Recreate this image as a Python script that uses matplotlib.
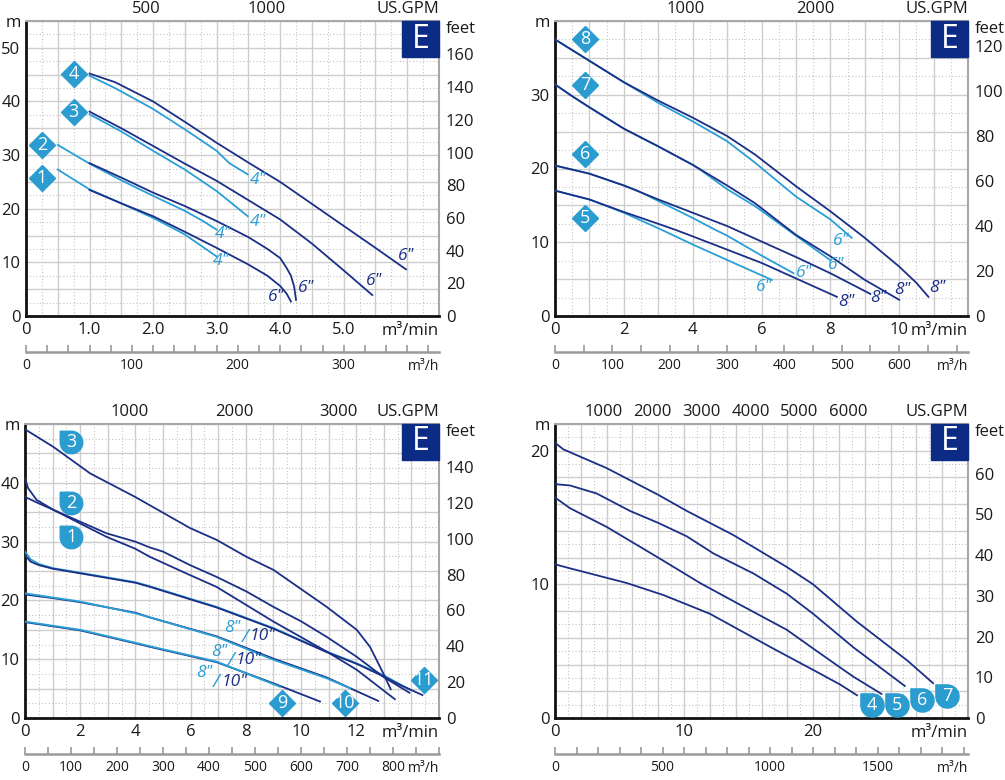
import matplotlib
matplotlib.use('Agg')
import matplotlib.pyplot as plt
import numpy as np
from matplotlib.path import Path
from matplotlib.patches import Rectangle
from matplotlib.transforms import offset_copy

plt.rcParams['font.family'] = ['Open Sans', 'DejaVu Sans']

DARK = '#1b2f86'
LIGHT = '#2a9fd6'
BADGE = '#2a9ccf'
EBOX = '#0b2b85'
GRID = '#cdcdcd'
GRID_DOT = '#c4c4c4'
TEXT = '#1a1a1a'

M_TO_FT = 3.28084
TO_GPM = 264.172
TO_M3H = 60.0

# ---------------- top-left panel (pumps 1-4, 4" / 6") ----------------
tl_c4_6_q = [1.0, 1.4, 2.0, 2.5, 3.0, 3.5, 4.0, 4.5, 5.0, 5.5, 5.98]
tl_c4_6_h = [45.2, 43.6, 40.0, 36.2, 32.3, 28.6, 25.0, 20.9, 16.8, 12.7, 8.7]
tl_c4_4_q = [1.0, 1.4, 2.0, 2.5, 3.0, 3.2, 3.49]
tl_c4_4_h = [44.8, 42.5, 38.6, 34.8, 30.8, 28.5, 26.4]
tl_c3_6_q = [1.0, 1.5, 2.0, 2.5, 3.0, 3.5, 4.0, 4.5, 4.7, 5.0, 5.45]
tl_c3_6_h = [38.1, 35.0, 31.7, 28.4, 25.2, 21.6, 18.0, 13.5, 11.5, 8.5, 3.9]
tl_c3_4_q = [1.0, 1.5, 2.0, 2.5, 3.0, 3.49]
tl_c3_4_h = [37.6, 34.4, 30.8, 27.3, 23.3, 18.6]
tl_c2_6_q = [1.0, 1.5, 2.0, 2.5, 3.0, 3.5, 3.8, 4.0, 4.1, 4.17, 4.22, 4.25]
tl_c2_6_h = [28.5, 25.8, 23.0, 20.5, 17.7, 14.7, 12.5, 10.8, 9.0, 7.5, 5.5, 3.0]
tl_c2_4_q = [0.5, 1.0, 1.5, 2.0, 2.5, 2.8, 3.0]
tl_c2_4_h = [31.9, 28.4, 25.3, 22.4, 19.6, 17.6, 16.1]
tl_c1_6_q = [1.0, 1.5, 2.0, 2.5, 3.0, 3.5, 3.8, 4.0, 4.1, 4.17]
tl_c1_6_h = [23.5, 21.0, 18.6, 15.7, 12.7, 9.6, 7.5, 5.6, 4.2, 2.7]
tl_c1_4_q = [0.5, 1.0, 1.5, 2.0, 2.5, 3.0]
tl_c1_4_h = [27.3, 23.6, 21.0, 18.3, 15.2, 11.1]

tl_lab4_x = [3.65, 3.65, 3.10, 3.07]
tl_lab4_y = [25.4, 17.5, 15.3, 10.2]
tl_lab6_x = [5.98, 5.48, 4.41, 3.94]
tl_lab6_y = [11.2, 6.5, 5.2, 3.6]
tl_badge_n = ['4', '3', '2', '1']
tl_badge_x = [0.75, 0.75, 0.25, 0.25]
tl_badge_y = [45.1, 38.0, 31.8, 25.8]

# ---------------- top-right panel (pumps 5-8, 6" / 8") ----------------
tr_c8_8_q = [0, 1, 2, 3, 4, 5, 5.81, 7, 8, 9, 10, 10.5, 10.85]
tr_c8_8_h = [37.5, 34.6, 31.7, 29.2, 26.9, 24.4, 21.9, 17.6, 14.2, 10.6, 6.7, 4.5, 2.6]
tr_c8_6_q = [0, 1, 2, 3, 4, 5, 5.81, 7, 8, 8.62]
tr_c8_6_h = [37.5, 34.6, 31.7, 28.9, 26.4, 23.7, 20.8, 16.2, 13.1, 10.6]
tr_c7_8_q = [0, 0.5, 1, 2, 3, 4, 5, 5.81, 7, 8, 9, 10]
tr_c7_8_h = [31.4, 29.8, 28.3, 25.4, 23.0, 20.5, 17.7, 15.3, 11.0, 8.1, 4.9, 2.2]
tr_c7_6_q = [0, 0.5, 1, 2, 3, 4, 4.2, 5, 5.81, 7, 7.99]
tr_c7_6_h = [31.4, 29.8, 28.3, 25.4, 23.0, 20.5, 19.9, 17.2, 14.9, 10.9, 7.6]
tr_c6_8_q = [0, 1, 2, 3, 4, 5, 6, 7, 8, 9.16]
tr_c6_8_h = [20.4, 19.3, 17.7, 15.8, 14.0, 12.2, 10.1, 8.0, 5.8, 3.0]
tr_c6_6_q = [0, 1, 2, 2.4, 3, 4, 4.65, 5, 6, 6.93]
tr_c6_6_h = [20.4, 19.3, 17.7, 17.0, 15.6, 13.3, 11.7, 10.9, 8.2, 5.8]
tr_c5_8_q = [0, 1, 2, 3, 3.49, 4, 5, 6, 7, 8.19]
tr_c5_8_h = [17.0, 15.8, 14.1, 12.5, 11.7, 10.8, 9.0, 7.2, 5.1, 2.6]
tr_c5_6_q = [0, 1, 2, 3, 4, 5, 6.3]
tr_c5_6_h = [17.0, 15.8, 14.0, 11.9, 9.7, 7.6, 4.9]

tr_lab6_x = [8.31, 8.17, 7.24, 6.08]
tr_lab6_y = [10.2, 6.9, 5.85, 3.9]
tr_lab8_x = [11.1, 10.09, 9.39, 8.46]
tr_lab8_y = [3.8, 3.5, 2.45, 1.9]
tr_badge_n = ['8', '7', '6', '5']
tr_badge_x = [0.87, 0.87, 0.87, 0.87]
tr_badge_y = [37.6, 31.3, 22.0, 13.3]

# ---------------- bottom-left panel (pumps 1-3, 9-11, 8"/10") ----------------
bl_c3_q = [0, 1.03, 2.36, 3.99, 5.98, 6.94, 8.03, 9.0, 10.93, 12.02, 12.5, 12.98, 13.25]
bl_c3_h = [49.1, 46.1, 41.6, 37.6, 32.3, 30.3, 27.4, 25.2, 18.9, 15.0, 12.1, 7.6, 4.9]
bl_c2_q = [0, 0.11, 0.42, 1.03, 1.99, 2.96, 3.99, 4.53, 5.0, 5.98, 6.94, 8.03, 9.0,
           10.02, 10.93, 12.02, 12.98, 13.93]
bl_c2_h = [40.8, 39.1, 37.1, 35.4, 33.4, 31.4, 30.0, 29.0, 28.3, 26.0, 24.0, 21.5, 18.9,
           16.4, 13.8, 10.4, 7.0, 4.3]
bl_c1_q = [0, 0.5, 1.03, 1.99, 2.96, 3.99, 4.53, 5.98, 6.94, 9.0, 10.93, 12.02, 13.4]
bl_c1_h = [37.6, 36.5, 35.4, 33.1, 30.8, 28.8, 27.4, 24.3, 22.3, 16.4, 11.3, 8.2, 3.2]
bl_c11_8_q = [0, 0.2, 0.5, 1, 2, 4, 4.53, 6.94, 9.0, 10.93, 12.02, 12.98, 13.95]
bl_c11_8_h = [28.3, 27.0, 26.2, 25.5, 24.7, 23.1, 22.4, 18.9, 15.3, 11.3, 9.3, 7.3, 4.8]
bl_c11_10_q = [0, 0.2, 0.5, 1, 2, 4, 4.53, 6.94, 9.0, 10.93, 12.02, 12.98, 13.6, 14.4]
bl_c11_10_h = [27.7, 26.6, 26.0, 25.4, 24.6, 23.0, 22.3, 18.8, 15.2, 11.2, 9.2, 7.1, 5.6, 3.9]
bl_c10_8_q = [0, 1, 2, 4, 4.53, 6.94, 9.0, 10.93, 11.78]
bl_c10_8_h = [21.2, 20.5, 19.8, 17.8, 17.1, 13.8, 9.9, 6.75, 5.05]
bl_c10_10_q = [0, 1, 2, 4, 4.53, 6.94, 9.0, 10.93, 12.0, 12.8]
bl_c10_10_h = [21.0, 20.4, 19.7, 17.9, 17.1, 13.9, 10.1, 6.9, 4.6, 2.9]
bl_c9_8_q = [0, 2, 4, 4.53, 6.94, 9.24]
bl_c9_8_h = [16.4, 15.0, 12.8, 12.2, 9.6, 5.3]
bl_c9_10_q = [0, 2, 4, 4.53, 6.94, 9.0, 10.69]
bl_c9_10_h = [16.3, 14.9, 12.7, 12.1, 9.5, 5.9, 2.8]

bl_lab_x = [7.82, 7.33, 6.80]
bl_lab_y = [14.6, 10.6, 6.9]
bl_tear_n = ['3', '2', '1']
bl_tear_x = [1.67, 1.67, 1.67]
bl_tear_y = [46.9, 36.6, 30.8]
bl_badge_n = ['9', '10', '11']
bl_badge_x = [9.31, 11.59, 14.46]
bl_badge_y = [2.55, 2.55, 6.46]

# ---------------- bottom-right panel (pumps 4-7) ----------------
br_c7_q = [0, 0.65, 4.0, 8.0, 10.2, 13.8, 17.96, 20.0, 23.4, 27.3, 29.3]
br_c7_h = [20.6, 20.1, 18.7, 16.7, 15.5, 13.7, 11.3, 10.0, 7.2, 4.3, 2.6]
br_c6_q = [0, 1.16, 3.23, 5.8, 8.0, 10.2, 12.3, 15.4, 17.96, 20.0, 23.1, 27.1]
br_c6_h = [17.5, 17.4, 16.8, 15.5, 14.6, 13.6, 12.3, 10.8, 9.3, 7.8, 5.3, 2.4]
br_c5_q = [0, 1.16, 4.0, 8.0, 11.24, 14.1, 17.96, 20.0, 23.1, 25.3]
br_c5_h = [16.5, 15.7, 14.3, 12.0, 10.1, 8.6, 6.6, 5.2, 3.1, 1.8]
br_c4_q = [0, 1.16, 5.56, 8.4, 12.0, 16.9, 20.0, 22.1, 23.4]
br_c4_h = [11.5, 11.2, 10.1, 9.2, 7.8, 5.2, 3.6, 2.5, 1.7]

br_tear_n = ['4', '5', '6', '7']
br_tear_x = [24.57, 26.5, 28.45, 30.4]
br_tear_y = [0.97, 0.97, 1.35, 1.65]

W, H = 1005, 780
fig = plt.figure(figsize=(W / 100, H / 100), dpi=100)

# badge with square top-left corner
arc = Path.arc(180, 450)
TEAR = Path(list(arc.vertices) + [(-1, 1), (-1, 0)],
            list(arc.codes) + [Path.LINETO, Path.CLOSEPOLY])


def px(ax, dx, dy):
    return offset_copy(ax.transAxes, fig=fig, x=dx, y=dy, units='dots')


def panel(box, xlim, ylim, gx, gy, xt, xtl, yt, ft, gpm, mh, mhl):
    l, t, r, b = box
    wpx, hpx = r - l, b - t
    ax = fig.add_axes([l / W, 1 - b / H, wpx / W, hpx / H])
    ax.set_xlim(*xlim)
    ax.set_ylim(*ylim)
    for v in np.arange(gx / 2, xlim[1], gx):
        ax.axvline(v, color=GRID_DOT, lw=0.8, ls=(0, (1, 2)), zorder=0)
    for v in np.arange(gy / 2, ylim[1], gy):
        ax.axhline(v, color=GRID_DOT, lw=0.8, ls=(0, (1, 2)), zorder=0)
    for v in np.arange(gx, xlim[1] + 1e-9, gx):
        ax.axvline(v, color=GRID, lw=1.0, zorder=0)
    for v in np.arange(gy, ylim[1] + 1e-9, gy):
        ax.axhline(v, color=GRID, lw=1.0, zorder=0)

    ax.set_xticks(xt, xtl)
    ax.set_yticks(yt, [str(v) for v in yt])
    ax.tick_params(axis='x', length=0, pad=4, labelsize=12, labelcolor=TEXT)
    ax.tick_params(axis='y', length=0, pad=4, labelsize=12, labelcolor=TEXT)
    for s in ('left', 'bottom'):
        ax.spines[s].set_color('#111111')
        ax.spines[s].set_linewidth(2.0)
    for s in ('top', 'right'):
        ax.spines[s].set_color('#a8a8a8')
        ax.spines[s].set_linewidth(1.5)

    top = ax.secondary_xaxis('top', functions=(lambda x: x * TO_GPM, lambda g: g / TO_GPM))
    top.set_xticks(gpm, [str(v) for v in gpm])
    top.tick_params(length=0, pad=3, labelsize=12, labelcolor=TEXT)
    for s in top.spines.values():
        s.set_visible(False)

    rgt = ax.secondary_yaxis('right', functions=(lambda m: m * M_TO_FT, lambda f: f / M_TO_FT))
    rgt.set_yticks(ft, [str(v) for v in ft])
    rgt.tick_params(length=0, pad=5, labelsize=12, labelcolor=TEXT)
    for s in rgt.spines.values():
        s.set_visible(False)

    bot = ax.secondary_xaxis(-36 / hpx, functions=(lambda x: x * TO_M3H, lambda v: v / TO_M3H))
    bot.set_xticks(mh, [str(v) if v in mhl else '' for v in mh])
    bot.tick_params(direction='in', length=5, width=1.2, color='#9a9a9a', pad=4,
                    labelsize=10, labelcolor=TEXT)
    bot.spines['bottom'].set_color('#9a9a9a')
    bot.spines['bottom'].set_linewidth(1.8)

    ax.text(0, 0, 'm', transform=px(ax, -13, hpx - 2), ha='center', va='center',
            fontsize=12, color=TEXT)
    ax.text(0, 0, 'feet', transform=px(ax, wpx + 7, hpx - 8), ha='left', va='center',
            fontsize=12, color=TEXT)
    ax.text(0, 0, 'US.GPM', transform=px(ax, wpx, hpx + 12), ha='right', va='center',
            fontsize=12, color=TEXT)
    ax.text(0, 0, 'm³/min', transform=px(ax, wpx, -15), ha='right', va='center',
            fontsize=12, color=TEXT)
    ax.text(0, 0, 'm³/h', transform=px(ax, wpx, -51), ha='right', va='center',
            fontsize=10, color=TEXT)

    ax.add_patch(Rectangle((1 - 37 / wpx, 1 - 36 / hpx), 37 / wpx, 36 / hpx,
                           transform=ax.transAxes, color=EBOX, zorder=6, clip_on=False))
    ax.text(1 - 18.5 / wpx, 1 - 18 / hpx, 'E', transform=ax.transAxes, color='white',
            fontsize=23, ha='center', va='center', zorder=7)
    return ax


def badges(ax, xs, ys, nums, marker, ms):
    for x, y, n in zip(xs, ys, nums):
        ax.plot([x], [y], marker=marker, ms=ms, color=BADGE, mec=BADGE, ls='none',
                clip_on=False, zorder=5)
        ax.text(x, y, n, color='white', fontsize=13, ha='center', va='center',
                zorder=6, clip_on=False)


def curve(ax, q, h, c):
    ax.plot(q, h, color=c, lw=1.3, zorder=3, solid_joinstyle='round')


def size_labels(ax, xs, ys, txt, c):
    for x, y in zip(xs, ys):
        ax.text(x, y, txt, color=c, style='italic', fontsize=12.5, ha='center',
                va='center', zorder=4)


# ---- top-left
ax = panel((26, 21, 439, 316), (0, 6.5), (0, 55), 0.5, 5,
           [0, 1, 2, 3, 4, 5], ['0', '1.0', '2.0', '3.0', '4.0', '5.0'],
           [0, 10, 20, 30, 40, 50], list(range(0, 161, 20)), [500, 1000],
           list(range(0, 381, 20)), [0, 100, 200, 300])
curve(ax, tl_c4_4_q, tl_c4_4_h, LIGHT)
curve(ax, tl_c3_4_q, tl_c3_4_h, LIGHT)
curve(ax, tl_c2_4_q, tl_c2_4_h, LIGHT)
curve(ax, tl_c1_4_q, tl_c1_4_h, LIGHT)
curve(ax, tl_c4_6_q, tl_c4_6_h, DARK)
curve(ax, tl_c3_6_q, tl_c3_6_h, DARK)
curve(ax, tl_c2_6_q, tl_c2_6_h, DARK)
curve(ax, tl_c1_6_q, tl_c1_6_h, DARK)
size_labels(ax, tl_lab4_x, tl_lab4_y, '4"', LIGHT)
size_labels(ax, tl_lab6_x, tl_lab6_y, '6"', DARK)
badges(ax, tl_badge_x, tl_badge_y, tl_badge_n, 'D', 13.5)

# ---- top-right
ax = panel((555, 21, 968, 316), (0, 12), (0, 40), 1, 5,
           [0, 2, 4, 6, 8, 10], ['0', '2', '4', '6', '8', '10'],
           [0, 10, 20, 30], list(range(0, 121, 20)), [1000, 2000],
           list(range(0, 701, 50)), [0, 100, 200, 300, 400, 500, 600])
curve(ax, tr_c8_6_q, tr_c8_6_h, LIGHT)
curve(ax, tr_c7_6_q, tr_c7_6_h, LIGHT)
curve(ax, tr_c6_6_q, tr_c6_6_h, LIGHT)
curve(ax, tr_c5_6_q, tr_c5_6_h, LIGHT)
curve(ax, tr_c8_8_q, tr_c8_8_h, DARK)
curve(ax, tr_c7_8_q, tr_c7_8_h, DARK)
curve(ax, tr_c6_8_q, tr_c6_8_h, DARK)
curve(ax, tr_c5_8_q, tr_c5_8_h, DARK)
size_labels(ax, tr_lab6_x, tr_lab6_y, '6"', LIGHT)
size_labels(ax, tr_lab8_x, tr_lab8_y, '8"', DARK)
badges(ax, tr_badge_x, tr_badge_y, tr_badge_n, 'D', 13.5)

# ---- bottom-left
ax = panel((25, 424, 439, 718), (0, 15), (0, 50), 1, 5,
           [0, 2, 4, 6, 8, 10, 12], ['0', '2', '4', '6', '8', '10', '12'],
           [0, 10, 20, 30, 40], list(range(0, 141, 20)), [1000, 2000, 3000],
           list(range(0, 901, 50)), [0, 100, 200, 300, 400, 500, 600, 700, 800])
curve(ax, bl_c11_8_q, bl_c11_8_h, LIGHT)
curve(ax, bl_c11_10_q, bl_c11_10_h, DARK)
curve(ax, bl_c10_10_q, bl_c10_10_h, DARK)
curve(ax, bl_c10_8_q, bl_c10_8_h, LIGHT)
curve(ax, bl_c9_10_q, bl_c9_10_h, DARK)
curve(ax, bl_c9_8_q, bl_c9_8_h, LIGHT)
curve(ax, bl_c3_q, bl_c3_h, DARK)
curve(ax, bl_c2_q, bl_c2_h, DARK)
curve(ax, bl_c1_q, bl_c1_h, DARK)
for x, y in zip(bl_lab_x, bl_lab_y):
    ax.annotate('8"', (x, y), xytext=(0, 0), textcoords='offset points', ha='right',
                va='baseline', color=LIGHT, style='italic', fontsize=12.5, zorder=4)
    ax.annotate('/', (x, y), xytext=(0.5, -7), textcoords='offset points', ha='left',
                va='baseline', color=LIGHT, style='italic', fontsize=14, zorder=4)
    ax.annotate('10"', (x, y), xytext=(6, -6), textcoords='offset points', ha='left',
                va='baseline', color=DARK, style='italic', fontsize=12.5, zorder=4)
badges(ax, bl_tear_x, bl_tear_y, bl_tear_n, TEAR, 16.5)
badges(ax, bl_badge_x, bl_badge_y, bl_badge_n, 'D', 13.5)

# ---- bottom-right
ax = panel((555, 424, 968, 718), (0, 32), (0, 22), 2, 2,
           [0, 10, 20], ['0', '10', '20'],
           [0, 10, 20], list(range(0, 61, 10)), [1000, 2000, 3000, 4000, 5000, 6000],
           list(range(0, 1901, 100)), [0, 500, 1000, 1500])
curve(ax, br_c7_q, br_c7_h, DARK)
curve(ax, br_c6_q, br_c6_h, DARK)
curve(ax, br_c5_q, br_c5_h, DARK)
curve(ax, br_c4_q, br_c4_h, DARK)
badges(ax, br_tear_x, br_tear_y, br_tear_n, TEAR, 17)

fig.savefig('out.png', dpi=100)
